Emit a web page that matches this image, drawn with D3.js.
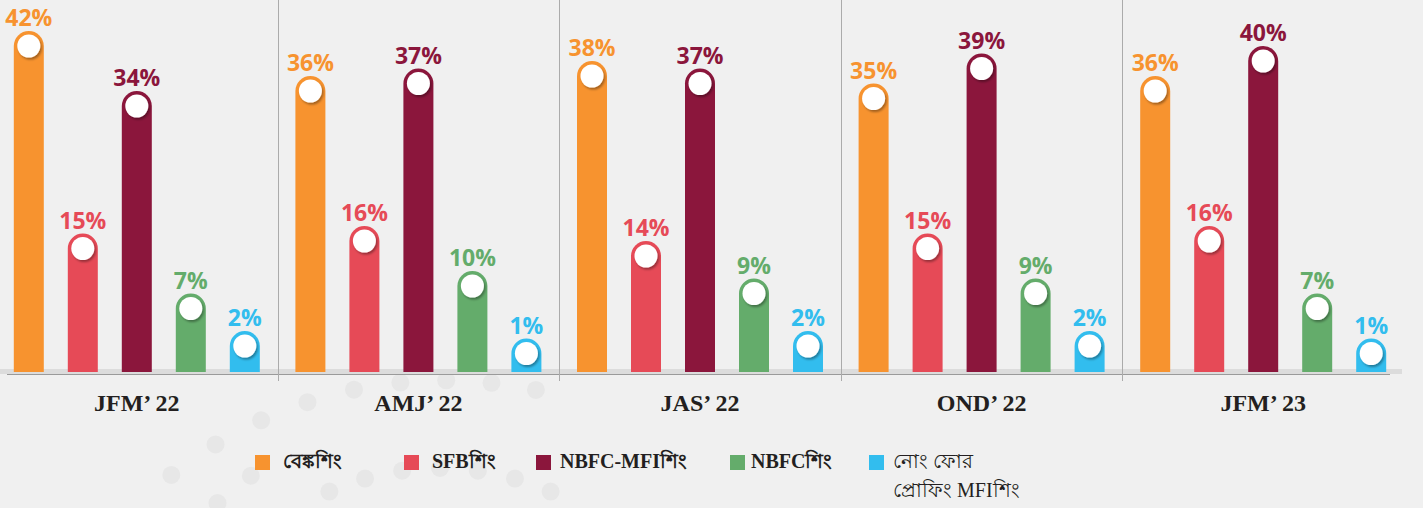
<!DOCTYPE html>
<html>
  <head>
    <meta charset="utf-8">
    <script src="https://cdn.jsdelivr.net/npm/d3@7"></script>
    <style>
      body { margin: 0; background: #f0f0f0; }
      svg { display: block; }
    </style>
  </head>
  <body>
    <script>
      // data
      var periods = ["JFM\u2019 22", "AMJ\u2019 22", "JAS\u2019 22", "OND\u2019 22", "JFM\u2019 23"];
      var series = ["বেঙ্কশিং", "SFBশিং", "NBFC-MFIশিং", "NBFCশিং", "নোং ফোর প্ৰোফিং MFIশিং"];
      var banking   = [42, 36, 38, 35, 36];
      var sfb       = [15, 16, 14, 15, 16];
      var nbfcMfi   = [34, 37, 37, 39, 40];
      var nbfc      = [7, 10, 9, 9, 7];
      var notProfit = [2, 1, 2, 2, 1];
      var colors = ["#f7932f", "#e64a57", "#8b163c", "#64ac6b", "#32bdee"];

      var values = [banking, sfb, nbfcMfi, nbfc, notProfit];

      var width = 1423, height = 508;
      var base = 372;           // bottom of bars
      var r = 15;               // round cap radius

      var svg = d3.select("body").append("svg")
          .attr("width", width)
          .attr("height", height);

      var defs = svg.append("defs");
      defs.append("filter").attr("id", "shadow")
          .attr("x", "-50%").attr("y", "-50%").attr("width", "200%").attr("height", "200%")
        .append("feDropShadow")
          .attr("dx", 1.5).attr("dy", 2).attr("stdDeviation", 1)
          .attr("flood-color", "#000").attr("flood-opacity", 0.35);

      svg.append("rect").attr("width", width).attr("height", height).attr("fill", "#f0f0f0");

      // faint decorative dots (two arcs behind the legend)
      var deco = svg.append("g").attr("fill", "#e7e7e7");
      var rad = Math.PI / 180;
      d3.range(9).forEach(function(i) {
        var t = i / 8, a = (-78 - 65 * t) * rad, rr = 317 + 57 * t * t;
        deco.append("circle").attr("cx", 470 + rr * Math.cos(a)).attr("cy", 700 + rr * Math.sin(a)).attr("r", 9);
      });
      d3.range(7).forEach(function(i) {
        var a = (-66 - 8 * i) * rad;
        deco.append("circle").attr("cx", 440 + 272 * Math.cos(a)).attr("cy", 740 + 272 * Math.sin(a)).attr("r", 9);
      });
      d3.range(2).forEach(function(i) {
        var a = (-125.6 - 7.6 * i) * rad;
        deco.append("circle").attr("cx", 440 + 325 * Math.cos(a)).attr("cy", 740 + 325 * Math.sin(a)).attr("r", 9);
      });

      var x = d3.scaleBand().domain(periods).range([-4, 1404]);
      var xi = d3.scaleBand().domain(series).range([-123, 123]).paddingInner(24 / 54);
      var y = d3.scaleLinear().domain([0, 42]).range([346, 31]);

      // baseline band and axis
      svg.append("rect")
          .attr("x", 0).attr("y", 369).attr("width", 1402).attr("height", 5)
          .attr("fill", "#dcdcdc");
      svg.append("line")
          .attr("x1", 7).attr("x2", 1390).attr("y1", 374.5).attr("y2", 374.5)
          .attr("stroke", "#9a9a9a").attr("stroke-width", 1.2);

      // separators
      svg.selectAll(".sep").data(periods.slice(1)).enter().append("line")
          .attr("class", "sep")
          .attr("x1", function(d) { return Math.round(x(d)) + 0.5; })
          .attr("x2", function(d) { return Math.round(x(d)) + 0.5; })
          .attr("y1", 0).attr("y2", 381)
          .attr("stroke", "#ababab").attr("stroke-width", 1);

      var groups = svg.selectAll(".grp").data(periods).enter().append("g")
          .attr("class", "grp")
          .attr("transform", function(d) { return "translate(" + (x(d) + x.bandwidth() / 2) + ",0)"; });

      groups.each(function(p, pi) {
        var g = d3.select(this);
        var rows = series.map(function(s, si) { return {s: s, v: values[si][pi], c: colors[si]}; });
        var bw = xi.bandwidth();

        var b = g.selectAll(".bar").data(rows).enter().append("g").attr("class", "bar");

        b.append("path")
            .attr("fill", function(d) { return d.c; })
            .attr("d", function(d) {
              var x0 = xi(d.s), top = y(d.v);
              return "M" + x0 + "," + base + "L" + x0 + "," + (top + r) +
                     "A" + r + "," + r + " 0 0 1 " + (x0 + bw) + "," + (top + r) +
                     "L" + (x0 + bw) + "," + base + "Z";
            });

        b.append("circle")
            .attr("cx", function(d) { return xi(d.s) + bw / 2; })
            .attr("cy", function(d) { return y(d.v) + r; })
            .attr("r", 11.5)
            .attr("fill", "#fff")
            .attr("filter", "url(#shadow)");

        b.append("text")
            .attr("x", function(d) { return xi(d.s) + bw / 2; })
            .attr("y", function(d) { return y(d.v) - 5; })
            .attr("text-anchor", "middle")
            .attr("fill", function(d) { return d.c; })
            .style("font-family", "'Open Sans', sans-serif")
            .style("font-weight", 700)
            .style("font-size", "23px")
            .text(function(d) { return d.v + "%"; });

        g.append("text")
            .attr("y", 411)
            .attr("text-anchor", "middle")
            .attr("fill", "#231f20")
            .style("font-family", "'Liberation Serif', 'Times New Roman', serif")
            .style("font-weight", 700)
            .style("font-size", "24px")
            .text(p);
      });

      // legend
      var legendX = [255, 404, 536, 730, 869];
      var leg = svg.selectAll(".leg").data(series).enter().append("g")
          .attr("class", "leg")
          .attr("transform", function(d, i) { return "translate(" + legendX[i] + ",455)"; });
      leg.append("rect")
          .attr("width", 15).attr("height", 15)
          .attr("fill", function(d, i) { return colors[i]; });
      leg.append("text")
          .attr("x", function(d, i) { return i === 3 ? 21 : (i === 2 ? 24 : 28); })
          .attr("y", 13)
          .attr("fill", "#231f20")
          .style("font-family", "'Liberation Serif', 'Times New Roman', serif")
          .style("font-weight", 700)
          .style("font-size", "20px")
          .each(function(d, i) {
            var t = d3.select(this);
            if (i === 4) {
              t.append("tspan").attr("x", 24).attr("y", 13).style("font-weight", 400).text("নোং ফোর");
              t.append("tspan").attr("x", 24).attr("y", 42).style("font-weight", 400).text("প্ৰোফিং MFIশিং");
            } else {
              t.text(d);
            }
          });
    </script>
  </body>
</html>
